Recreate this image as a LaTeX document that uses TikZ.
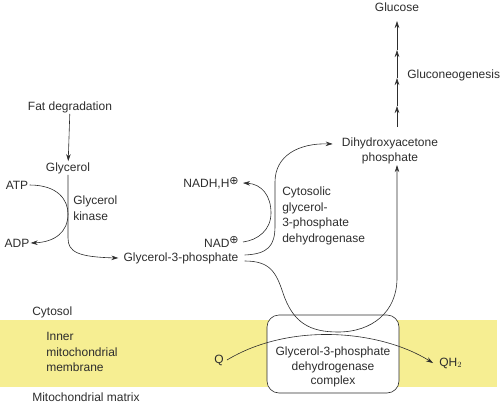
\documentclass[tikz,border=0pt]{standalone}
\usepackage{fontspec}
\setmainfont{Liberation Sans}
\newfontfamily\symfont{DejaVu Sans}
\usetikzlibrary{arrows.meta}
\definecolor{membrane}{RGB}{246,238,146}
\definecolor{ink}{RGB}{45,45,45}
\newcommand{\pluscharge}{\raisebox{3.5pt}{\symfont\fontsize{11}{11}\selectfont ⊕}}

\begin{document}
\begin{tikzpicture}[>={Stealth[length=7pt,width=4.5pt]}, x=1pt, y=-1pt, draw=ink, line width=0.6pt,
    every node/.style={font=\fontsize{12}{15.5}\selectfont, text=ink, inner sep=1pt}]
        \useasboundingbox (0,0) rectangle (503,404);
        % membrane band
        \fill[membrane] (0,320) rectangle (497,387);
        \node[draw, fill=white, rounded corners=12pt, minimum width=132pt, minimum height=78pt] (cplx) at (333,354) {};
        \node[align=center, font=\fontsize{12}{14.5}\selectfont] (cplxt) at (333,367) {Glycerol-3-phosphate\\dehydrogenase\\complex};

        % labels
        \node (fat) at (70,107) {Fat degradation};
        \node (gly) at (68,168) {Glycerol};
        \node (atp) at (17,185) {ATP};
        \node (adp) at (17,243) {ADP};
        \node[align=left, anchor=west] (kin) at (72,208) {Glycerol\\kinase};
        \node (g3p) at (181,258) {Glycerol-3-phosphate};
        \node[anchor=east] (nadh) at (240,183) {NADH,H\pluscharge};
        \node[anchor=east] (nad) at (240,242) {NAD\pluscharge};
        \node[align=left, anchor=west] (cdh) at (281,216) {Cytosolic\\glycerol-\\3-phosphate\\dehydrogenase};
        \node[align=center, font=\fontsize{12}{14.5}\selectfont] (dhap) at (390,151) {Dihydroxyacetone\\phosphate};
        \node (glc) at (397,7) {Glucose};
        \node[anchor=west] (gng) at (406,75) {Gluconeogenesis};
        \node[anchor=west] (cyt) at (31,312) {Cytosol};
        \node[anchor=west, align=left] (imm) at (45,352) {Inner\\mitochondrial\\membrane};
        \node[anchor=west] (mat) at (31,397) {Mitochondrial matrix};
        \node (q) at (219,360) {Q};
        \node[anchor=west] (qh2) at (438,363) {QH$_2$};

        % glycerol branch
        \draw[->] (fat) -- (gly);
        \draw[->] (gly) -- (68,238) .. controls (68,252) and (78,257) .. ([xshift=-4pt]g3p.west);
        \draw[->] (atp.east) .. controls (58,185) and (68,200) .. (68,214) .. controls (68,232) and (55,242) .. (adp.east);

        % cytosolic dehydrogenase
        \draw[->] ([xshift=3pt]nad.east) .. controls (258,240) and (271,230) .. (271,213) .. controls (271,196) and (262,184) .. ([xshift=3pt]nadh.east);
        \draw[->] ([xshift=5pt,yshift=3pt]g3p.east) .. controls (268,254) and (275,246) .. (275,226) -- (275,182)
            .. controls (275,156) and (298,143) .. ([xshift=-8pt,yshift=7pt]dhap.west);

        % through the membrane complex
        \draw[->] ([xshift=5pt,yshift=-3pt]g3p.east) .. controls (270,261) and (276,272) .. (283,293)
            .. controls (293,323) and (310,332) .. (338,332) .. controls (372,332) and (397,312) .. (397,278)
            -- (dhap.south -| 397,0);
        \draw[->] ([xshift=2pt]q.east) .. controls (290,322) and (380,330) .. ([xshift=-5pt]qh2.west);

        % gluconeogenesis
        \foreach \n/\y in {0/127, 1/106, 2/78, 3/50, 4/21}
          \coordinate (c\n) at (397,\y);
        \foreach \a/\b in {0/1, 1/2, 2/3, 3/4}
          \draw[->] (c\a) -- (c\b);
      \end{tikzpicture}
\end{document}
